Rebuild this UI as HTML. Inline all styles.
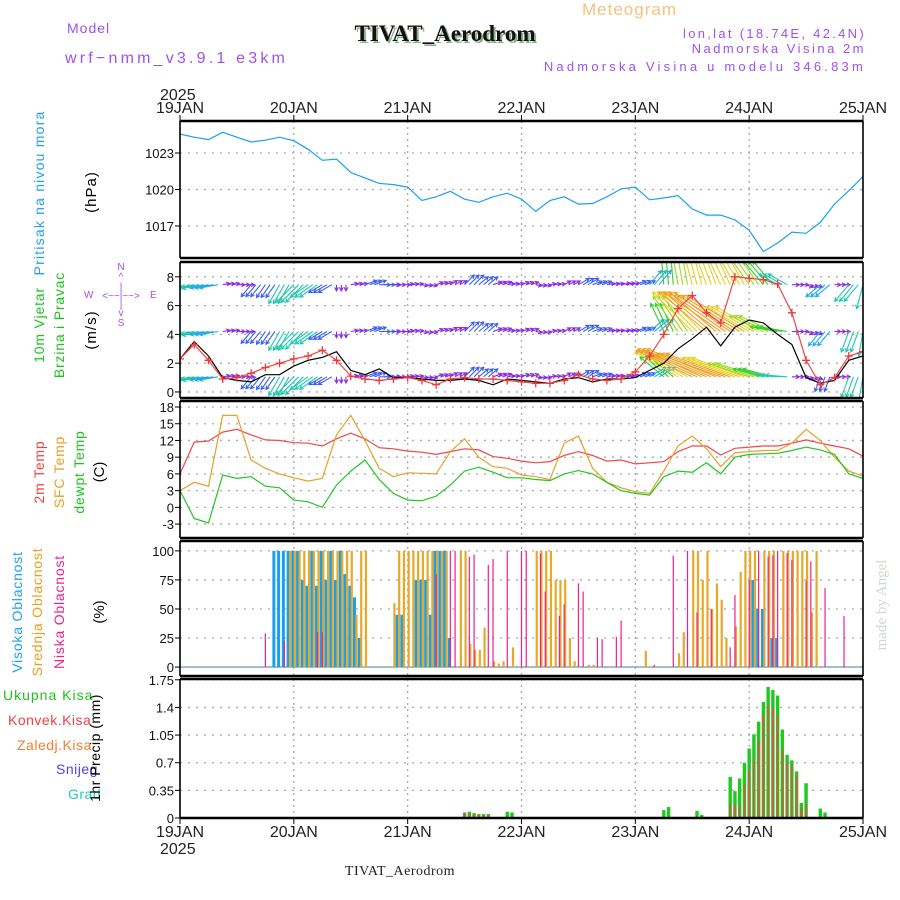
<!DOCTYPE html>
<html><head><meta charset="utf-8"><style>
body{margin:0;background:#fff;}
svg{display:block;font-family:"Liberation Sans",sans-serif;}
</style></head><body>
<svg id="c" width="900" height="900" viewBox="0 0 900 900">
<text x="582" y="15" font-size="17" fill="#f5c27a" letter-spacing="1">Meteogram</text>
<text x="67" y="33" font-size="14" fill="#a050f0" letter-spacing="1">Model</text>
<text x="65" y="63" font-size="16" fill="#a050f0" letter-spacing="3.2">wrf−nmm_v3.9.1 e3km</text>
<text x="447" y="43" font-size="23" font-weight="bold" font-family="Liberation Serif,serif" fill="#8fb28f" text-anchor="middle">TIVAT_Aerodrom</text>
<text x="445" y="41" font-size="23" font-weight="bold" font-family="Liberation Serif,serif" fill="#111" text-anchor="middle">TIVAT_Aerodrom</text>
<text x="866" y="38" font-size="13" fill="#a050f0" text-anchor="end" letter-spacing="2.3">lon,lat (18.74E, 42.4N)</text>
<text x="866" y="53" font-size="13" fill="#a050f0" text-anchor="end" letter-spacing="2.5">Nadmorska Visina 2m</text>
<text x="866" y="71" font-size="13" fill="#a050f0" text-anchor="end" letter-spacing="3.2">Nadmorska Visina u modelu 346.83m</text>
<text x="160" y="100" font-size="16" fill="#222">2025</text>
<text x="160" y="854" font-size="16" fill="#222">2025</text>
<text x="400" y="875" font-size="14" font-family="Liberation Serif,serif" fill="#222" text-anchor="middle" letter-spacing="0.5">TIVAT_Aerodrom</text>
<text transform="translate(886,605) rotate(-90)" font-size="15" font-family="Liberation Serif,serif" fill="#d0d8d0" text-anchor="middle">made by Angel</text>
<text transform="translate(44,193) rotate(-90)" font-size="14" fill="#20a0f0" text-anchor="middle" letter-spacing="1.2">Pritisak na nivou mora</text>
<text transform="translate(96,192) rotate(-90)" font-size="15" fill="#000" text-anchor="middle" letter-spacing="1">(hPa)</text>
<text transform="translate(44,325) rotate(-90)" font-size="14" fill="#20c020" text-anchor="middle" letter-spacing="0.8">10m Vjetar</text>
<text transform="translate(64,325) rotate(-90)" font-size="14" fill="#20c020" text-anchor="middle" letter-spacing="0.8">Brzina i Pravac</text>
<text transform="translate(96,330) rotate(-90)" font-size="15" fill="#000" text-anchor="middle" letter-spacing="1">(m/s)</text>
<g font-size="10" fill="#a050f0">
<text x="121" y="270" text-anchor="middle">N</text>
<text x="121" y="280" text-anchor="middle">^</text>
<text x="121" y="290" text-anchor="middle">|</text>
<text x="121" y="299" text-anchor="middle">&lt;−−|−−&gt;</text>
<text x="121" y="308" text-anchor="middle">|</text>
<text x="121" y="316" text-anchor="middle">v</text>
<text x="121" y="326" text-anchor="middle">S</text>
<text x="84" y="298">W</text><text x="150" y="298">E</text>
</g>
<text transform="translate(44,472) rotate(-90)" font-size="14" fill="#f04040" text-anchor="middle" letter-spacing="0.8">2m Temp</text>
<text transform="translate(64,472) rotate(-90)" font-size="14" fill="#e8a020" text-anchor="middle" letter-spacing="0.8">SFC Temp</text>
<text transform="translate(84,472) rotate(-90)" font-size="14" fill="#20c020" text-anchor="middle" letter-spacing="0.8">dewpt Temp</text>
<text transform="translate(104,472) rotate(-90)" font-size="15" fill="#000" text-anchor="middle">(C)</text>
<text transform="translate(22,612) rotate(-90)" font-size="14" fill="#20a0f0" text-anchor="middle" letter-spacing="0.8">Visoka Oblacnost</text>
<text transform="translate(42,612) rotate(-90)" font-size="14" fill="#e8a020" text-anchor="middle" letter-spacing="0.8">Srednja Oblacnost</text>
<text transform="translate(64,612) rotate(-90)" font-size="14" fill="#f0208a" text-anchor="middle" letter-spacing="0.8">Niska Oblacnost</text>
<text transform="translate(104,612) rotate(-90)" font-size="15" fill="#000" text-anchor="middle">(%)</text>
<text x="3" y="700" font-size="14" fill="#20c020" letter-spacing="1">Ukupna Kisa</text>
<text x="8" y="725" font-size="14" fill="#f04040" letter-spacing="0.5">Konvek.Kisa</text>
<text x="17" y="750" font-size="14" fill="#f08030" letter-spacing="0.5">Zaledj.Kisa</text>
<text x="56" y="774" font-size="14" fill="#5040f0" letter-spacing="0.5">Snijeg</text>
<text x="68" y="799" font-size="14" fill="#20c8c8" letter-spacing="0.5">Grad</text>
<text transform="translate(100,748) rotate(-90)" font-size="14" fill="#000" text-anchor="middle" letter-spacing="0.5">1hr Precip (mm)</text>
</svg>
<script>
const dayLabels=["19JAN","20JAN","21JAN","22JAN","23JAN","24JAN","25JAN"];
const pressTicks=[1017,1020,1023];
const windTicks=[0,2,4,6,8];
const tempTicks=[-3,0,3,6,9,12,15,18];
const cloudTicks=[0,25,50,75,100];
const precipTicks=[0,0.35,0.7,1.05,1.4,1.75];
const pressure=[1024.55,1024.3,1024.1,1024.7,1024.3,1023.9,1024.05,1024.3,1024,1023.3,1022.4,1022.5,1021.4,1020.95,1020.5,1020.4,1020.2,1019.1,1019.4,1019.85,1019.2,1018.95,1019.4,1019.7,1019.2,1018.2,1019.1,1019.4,1018.8,1018.85,1019.4,1020.05,1020.2,1019.15,1019.3,1019.5,1018.4,1017.9,1017.9,1017.5,1016.65,1014.9,1015.6,1016.5,1016.4,1017.3,1018.8,1019.9,1021.05];
const temp2m=[6,11.7,11.9,13.5,14,13,12.1,12,11.6,11.5,11,12.3,13.3,12.3,10.7,10.5,10.1,9.9,9.5,10,10.5,10.3,9.1,8.8,8.3,8,8.2,9.3,10,9.3,8.3,8.5,7.8,8,8.2,10,11,11,9.4,10.6,10.8,11,11,11.5,12.1,11.5,11,10.5,9.2];
const tempSfc=[3,4.5,3.8,16.5,16.5,8.5,7,6,5.3,4.7,5.2,13,16.5,12,7,5.5,6.2,6.1,6,10,12.3,9,7.3,7,5.8,5.5,5,11.5,12.8,7,4.5,3.5,2.8,2.5,6.5,11,12.8,10.5,7.3,9.8,10,10.2,10.2,11.5,14,12,9,6.5,5.6];
const dewpt=[3,-2,-2.8,5.8,5.2,5.5,3.8,3.5,1.3,1,0,4,6.5,8.5,5,2.5,1.3,1.2,2,4,6.5,7.2,6.3,5.3,5.3,5,4.8,6,6.6,6,4.5,3,2.5,2.2,5.5,6.5,6.3,8,6,9,9.5,9.6,9.7,10.2,10.8,10.3,9.5,6,5.2];
const windSpeed=[2.3,3.5,2.5,1,0.8,0.7,1.2,1.2,1.8,2.2,2.4,2.8,1.5,1.2,1.6,1,1,0.9,0.8,0.8,0.9,0.8,0.5,0.9,0.8,0.7,0.6,0.9,1,0.7,0.9,0.9,1,1.5,2,3,3.7,4.5,3.2,4.5,5,4.8,4,3.3,1,0.6,0.8,2.2,2.5];
const windGust=[2.3,3.3,2.2,0.9,1,1.3,1.7,2,2.3,2.5,2.9,2.2,1.1,0.9,0.8,0.9,1,0.8,0.5,0.9,1,0.9,0.9,0.8,0.7,0.6,0.6,0.8,1.2,0.9,0.8,0.9,1.4,2.5,4,5.8,6.7,5.5,4.8,8,7.9,7.8,7.5,5.5,2.2,0.5,1,2.5,2.8];
const windDirLow=[200,190,190,10,0,230,235,240,225,215,210,270,10,20,0,0,10,350,20,30,45,40,20,10,20,350,10,30,30,20,10,10,20,30,140,150,155,158,160,160,162,165,175,0,340,250,0,250,260];
const windSpdLow=[4,3.5,3,1.2,1.3,2.5,2.5,3.5,4,3.5,2.5,1,1.2,2,1.8,1.2,1,1,1.2,1.3,2.2,2,1.5,1.2,1.3,1,1,1.2,2,1.6,1.3,1.5,1.8,3,5,8,10,12,11,9,7,5,3.5,1.2,1.2,2.5,1,3.5,4];
const windDirMid=[200,190,190,10,0,230,235,240,225,215,210,270,10,20,0,0,10,350,20,30,45,40,20,10,20,350,10,30,30,20,10,10,20,40,115,125,135,140,145,148,150,155,170,0,340,230,0,250,260];
const windSpdMid=[4,3.5,3,1.2,1.3,2.5,2.5,3.5,4,3.5,2.5,1,1.2,2,1.8,1.2,1,1,1.2,1.3,2.2,2,1.5,1.2,1.3,1,1,1.2,2,1.6,1.3,1.5,1.8,3,5,7,9,10,11,11,8,6,4.5,1.2,1.2,3,1,3.5,4];
const windDirHigh=[200,190,190,10,0,230,235,240,225,215,210,270,10,20,0,0,10,350,20,30,45,40,20,10,20,350,10,30,30,20,10,10,20,50,95,100,105,110,115,120,125,130,150,0,340,220,0,230,255];
const windSpdHigh=[4,3.5,3,1.2,1.3,2.5,2.5,3.5,4,3.5,2.5,1,1.2,2,1.8,1.2,1,1,1.2,1.3,2.2,2,1.5,1.2,1.3,1,1,1.2,2,1.6,1.3,1.5,1.8,3,5,7,8,9,9,8,6,5,3.5,1.2,1.2,3,1,3.5,4];
const windLevels=[1.05,4.2,7.45];
const highHours=[20,21,22,23,24,25,26,27,28,29,30,31,32,33,34,35,36,37,38,46,47,50,51,52,53,54,55,56,57,121,122,123,125,126];
const highVals=[100,100,100,100,100,100,75,70,100,70,100,75,100,75,100,80,70,60,25,45,45,75,75,75,45,100,100,100,25,75,50,50,25,25];
const midHours=[23,24,25,26,27,28,29,30,31,32,33,34,35,36,37,38,39,45,46,47,48,49,50,51,52,53,54,55,56,59,60,61,62,63,64,66,67,68,70,75,76,77,78,79,80,81,82,83,86,87,98,105,106,108,109,110,111,112,113,114,115,117,118,119,120,121,123,124,125,127,128,129,130,131,132,133,134];
const midVals=[100,100,100,100,100,100,100,100,100,100,100,100,100,100,45,100,100,55,100,100,100,100,100,100,100,100,100,100,100,100,100,20,15,15,34,5,3,5,17,100,100,100,100,75,75,75,25,5,2,2,14,12,30,100,100,75,100,50,72,58,25,35,82,100,100,100,100,100,100,100,100,100,100,100,100,47,100];
const lowHours=[18,22,29,30,54,57,58,61,62,65,66,69,72,73,76,77,80,81,84,85,88,89,92,93,100,104,107,109,112,116,117,120,122,124,125,126,128,129,132,133,136,140];
const lowVals=[29,22,30,30,80,100,100,95,97,88,93,100,100,100,98,65,44,54,72,65,25,24,26,40,2,96,100,47,50,17,62,75,100,95,96,100,98,92,74,91,68,44];
const rainHours=[60,61,62,63,64,65,69,70,75,85,102,103,104,108,109,110,115,116,117,118,119,120,121,122,123,124,125,126,127,128,129,130,131,132,133,135,136];
const rainTotal=[0.07,0.08,0.06,0.05,0.05,0.05,0.08,0.07,0.01,0.01,0.1,0.14,0.01,0.01,0.09,0.04,0.01,0.52,0.34,0.5,0.7,0.88,1.06,1.22,1.47,1.66,1.62,1.55,1.12,0.8,0.73,0.59,0.19,0.44,0.01,0.12,0.07];
const rainConv=[0.07,0.05,0.06,0.04,0.04,0.04,0,0,0,0.01,0,0,0,0,0,0,0,0.17,0.16,0.16,0.42,0.6,0.74,0.97,1.3,1.43,1.4,1.3,0.87,0.7,0.68,0.54,0.12,0.17,0,0,0];

const svg=document.getElementById('c');
const NS='http://www.w3.org/2000/svg';
function el(tag,attrs,parent){const e=document.createElementNS(NS,tag);for(const k in attrs)e.setAttribute(k,attrs[k]);(parent||svg).appendChild(e);return e;}
const X0=180,X1=863;
const xH=h=>X0+h*(X1-X0)/144;
const panels=[
 {name:'pressure',top:121,bot:258,min:1014.37,max:1025.63,ticks:pressTicks,fmt:v=>v},
 {name:'wind',top:262,bot:398,min:-0.42,max:9.03,ticks:windTicks,fmt:v=>v},
 {name:'temp',top:401,bot:538,min:-5.5,max:19.08,ticks:tempTicks,fmt:v=>v},
 {name:'cloud',top:541,bot:676,min:-7.7,max:108.5,ticks:cloudTicks,fmt:v=>v},
 {name:'precip',top:679,bot:818,min:0,max:1.76,ticks:precipTicks,fmt:v=>v}];
panels.forEach(p=>{p.y=v=>p.bot-(v-p.min)/(p.max-p.min)*(p.bot-p.top);});
const [PP,PW,PT,PC,PR]=panels;

panels.forEach(p=>{
 const g=el('g',{});
 
 
 const cid='clip-'+p.name;
 const cp=el('clipPath',{id:cid},g);el('rect',{x:X0,y:p.top,width:X1-X0,height:p.bot-p.top},cp);
 for(let d=1;d<6;d++){const l=el('line',{x1:xH(d*24),x2:xH(d*24),y1:p.top,y2:p.bot,stroke:'#aaa','stroke-dasharray':'2,4','stroke-width':1.3},g);
  
  }
 p.ticks.forEach(t=>{const yy=p.y(t);
  const l=el('line',{x1:X0,x2:X1,y1:yy,y2:yy,stroke:'#aaa','stroke-dasharray':'2,6','stroke-width':1.3},g);
  
  
  el('line',{x1:X0-5,x2:X0,y1:yy,y2:yy,stroke:'#000'},g);
  const tx=el('text',{x:X0-6,y:yy+5,'font-size':13,'text-anchor':'end',fill:'#111'},g);tx.textContent=p.fmt(t);
  
  });
 p.g=el('g',{'clip-path':'url(#'+cid+')'},g);
 p.frame=g;
});
function line(p,arr,color,name,w){const pts=arr.map((v,i)=>xH(i*3).toFixed(1)+','+p.y(v).toFixed(1)).join(' ');
 const l=el('polyline',{points:pts,fill:'none',stroke:color,'stroke-width':w||1.2},p.g);
 
 return l;}
line(PP,pressure,'#1aa0f5','pressure-line');
line(PT,temp2m,'#f04848','temp-2m-line');
line(PT,tempSfc,'#e8a028','temp-sfc-line');
line(PT,dewpt,'#20c820','dewpoint-line');
function spdColor(s){if(s<1.6)return '#8a2be2';if(s<2.6)return '#3a5ff0';if(s<3.4)return '#20a8f0';if(s<4.5)return '#20c8b0';if(s<6)return '#30d030';if(s<8)return '#a0d820';if(s<10)return '#e8d020';if(s<13)return '#f0a020';return '#f07830';}
[[windDirLow,windSpdLow],[windDirMid,windSpdMid],[windDirHigh,windSpdHigh]].forEach((row,ri)=>{
 const g=el('g',{},PW.g);
 
 
 const by=PW.y(windLevels[ri]);
 row[0].forEach((dir,i)=>{const s=row[1][i];const c=spdColor(s);
  for(let k=0;k<3;k++){const h=i*3+k;if(h>144)break;
   const x=xH(h),L=s*6.2,a=dir*Math.PI/180;
   const x2=x+L*Math.cos(a),y2=by-L*Math.sin(a);
   const ar=el('path',{d:`M${x.toFixed(1)},${by.toFixed(1)}L${x2.toFixed(1)},${y2.toFixed(1)}M${(x2-4*Math.cos(a-0.5)).toFixed(1)},${(y2+4*Math.sin(a-0.5)).toFixed(1)}L${x2.toFixed(1)},${y2.toFixed(1)}L${(x2-4*Math.cos(a+0.5)).toFixed(1)},${(y2+4*Math.sin(a+0.5)).toFixed(1)}`,stroke:c,fill:'none','stroke-width':1.1},g);
   
   }
 });
});
line(PW,windSpeed,'#000','wind-speed-line');
line(PW,windGust,'#f04848','wind-gust-line');
windGust.forEach((v,i)=>{const x=xH(i*3),y=PW.y(v);
 const m=el('path',{d:`M${x-4},${y}h8M${x},${y-4}v8`,stroke:'#f03838','stroke-width':1.3},PW.g);
 
 });
function bars(p,hours,vals,color,w,off,name){vals.forEach((v,i)=>{if(v<=0)return;const x=xH(hours[i])+off,y=p.y(v),y0=p.y(0);
 const r=el('rect',{x:x-w/2,y:y,width:w,height:y0-y,fill:color},p.g);
 
 });}
const zl=el('line',{x1:X0,x2:X1,y1:PC.y(0),y2:PC.y(0),stroke:'#8ab',"stroke-width":1.5},PC.g);


bars(PC,highHours,highVals,'#18a0f0',3,-1,'high-cloud-bar');
bars(PC,midHours,midVals,'#e8a828',2.2,1,'mid-cloud-bar');
bars(PC,lowHours,lowVals,'#f0208a',1.2,0,'low-cloud-bar');
bars(PR,rainHours,rainTotal,'#20c820',3.4,0,'total-precip-bar');
bars(PR,rainHours,rainConv,'#f04848',1.4,0,'convective-precip-bar');
panels.forEach(p=>{
 el('line',{x1:X0,x2:X1,y1:p.top,y2:p.top,stroke:'#000','stroke-width':2.4},p.frame);
 el('line',{x1:X0,x2:X1,y1:p.bot,y2:p.bot,stroke:'#000','stroke-width':2.4},p.frame);
 el('line',{x1:X0,x2:X0,y1:p.top,y2:p.bot,stroke:'#000','stroke-width':1.6},p.frame);
 el('line',{x1:X1,x2:X1,y1:p.top,y2:p.bot,stroke:'#000','stroke-width':1.6},p.frame);
});
dayLabels.forEach((d,i)=>{[[113,'top'],[837,'bottom']].forEach(([yy,pos])=>{
 const t=el('text',{x:xH(i*24),y:yy,'font-size':16,'text-anchor':'middle',fill:'#222'});t.textContent=d;
 
 
 el('line',{x1:xH(i*24),x2:xH(i*24),y1:pos=='top'?115:818,y2:pos=='top'?121:824,stroke:'#000'});});});
</script>
</body></html>
